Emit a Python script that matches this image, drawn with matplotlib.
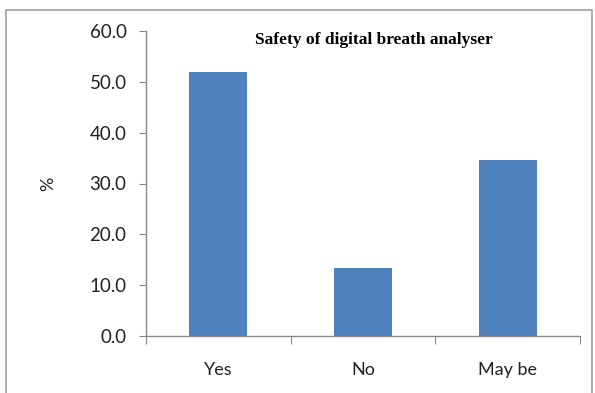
import matplotlib
matplotlib.use("Agg")
import matplotlib.pyplot as plt
from matplotlib.patches import Rectangle

# Chart data
categories = ["Yes", "No", "May be"]
percentages = [52.0, 13.4, 34.6]
y_ticks = [0, 10, 20, 30, 40, 50, 60]

bar_color = "#4f81bd"
axis_color = "#898989"
text_color = "#222222"

fig = plt.figure(figsize=(5.95, 3.93), dpi=100)
ax = fig.add_axes([146 / 595, 1 - 336 / 393, (580 - 146) / 595, (336 - 31) / 393])

# Bars at category centres
positions = [i + 0.5 for i in range(len(categories))]
ax.bar(positions, percentages, width=0.4, color=bar_color)

ax.set_xlim(0, len(categories))
ax.set_ylim(0, 60)
ax.set_yticks(y_ticks)
ax.set_yticklabels([f"{v:.1f}" for v in y_ticks], fontsize=13.5, family="Lato", color=text_color)

# category boundaries carry the tick marks, labels sit in the middle
ax.set_xticks(range(len(categories) + 1))
ax.set_xticklabels([])
ax.set_xticks(positions, minor=True)
ax.set_xticklabels(categories, minor=True, fontsize=13, family="Lato", color=text_color)
ax.tick_params(axis="x", which="major", length=6, color=axis_color, direction="out")
ax.tick_params(axis="x", which="minor", length=0, pad=19)
ax.tick_params(axis="y", length=5, color=axis_color, pad=9)

for side in ["top", "right"]:
    ax.spines[side].set_visible(False)
for side in ["left", "bottom"]:
    ax.spines[side].set_color(axis_color)
    ax.spines[side].set_linewidth(1)

ax.set_ylabel("%", fontsize=13, family="Lato", color=text_color, labelpad=24)

fig.text(374 / 595, 1 - 40 / 393, "Safety of digital breath analyser", ha="center", va="center",
         fontsize=12.5, fontweight="bold", family="Liberation Serif")

# gray frame around the whole chart area
fig.patches.append(Rectangle((6 / 595, -0.01), 586 / 595, 1 - 10 / 393 + 0.01,
                             transform=fig.transFigure, fill=False,
                             edgecolor="#a0a0a0", linewidth=1.2))

fig.savefig("out.png", dpi=100)
